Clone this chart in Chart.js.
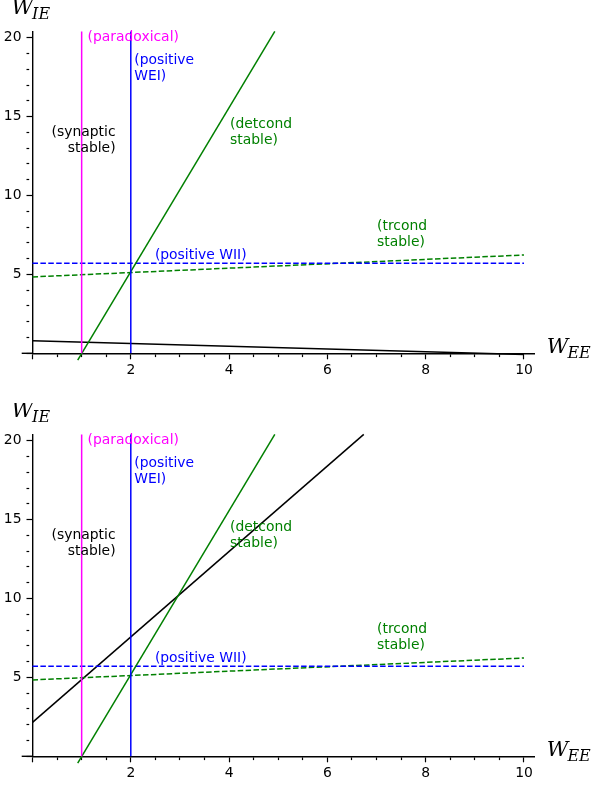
<!DOCTYPE html>
<html><head><meta charset="utf-8">
<script src="https://cdn.jsdelivr.net/npm/chart.js@4.4.1/dist/chart.umd.min.js"></script>
<style>
html,body{margin:0;padding:0;background:#fff;overflow:hidden;width:591px;height:785px}
canvas{position:absolute;left:0}
#c1{top:0}
#c2{top:403px}
</style></head><body>
<canvas id="c1" width="591" height="392"></canvas>
<canvas id="c2" width="591" height="392"></canvas>
<script>
// ---- data (W_EE on x, W_IE on y) ----
const paradoxicalX = [1, 1],        paradoxicalY = [0, 20.4];
const positiveWEIX = [2, 2],        positiveWEIY = [0, 20.4];
const detcondX     = [0.92, 4.93],  detcondY     = [-0.43, 20.4];
const positiveWIIX = [0, 10],       positiveWIIY = [5.7, 5.7];
const trcondX      = [0, 10],       trcondY      = [4.84, 6.23];
const synapticTopX = [0, 10],       synapticTopY = [0.8, -0.08];
const synapticBotX = [0, 6.74],     synapticBotY = [2.15, 20.4];

// ---- ticks ----
const xTickValues = [0,0.5,1,1.5,2,2.5,3,3.5,4,4.5,5,5.5,6,6.5,7,7.5,8,8.5,9,9.5,10];
const xMajorTicks = [0,2,4,6,8,10];
const xTickLabels = [2,4,6,8,10];
const yTickValues = [0,1,2,3,4,5,6,7,8,9,10,11,12,13,14,15,16,17,18,19,20];
const yMajorTicks = [0,5,10,15,20];
const yTickLabels = [5,10,15,20];

// ---- text labels ----
const noteText   = [['(paradoxical)'], ['(positive','WEI)'], ['(synaptic','stable)'], ['(detcond','stable)'], ['(trcond','stable)'], ['(positive WII)']];
const noteX      = [1.12, 2.07, 1.69, 4.02, 7.01, 2.49];
const noteY      = [20.0, 18.05, 13.5, 14.0, 7.53, 6.23];
const noteAlign  = ['left','left','right','left','left','left'];
const noteColor  = ['#ff00ff','#0000ff','#000000','#008000','#008000','#0000ff'];

const pts = (X, Y) => X.map((v, i) => ({x: v, y: Y[i]}));

function drawMath(ctx, main, sub, x, yb) {
  ctx.textAlign = 'left';
  ctx.textBaseline = 'alphabetic';
  ctx.fillStyle = '#000';
  ctx.font = 'italic 21px "DejaVu Serif"';
  ctx.fillText(main, x, yb);
  const w = ctx.measureText(main).width;
  ctx.font = 'italic 16px "DejaVu Serif"';
  ctx.fillText(sub, x + w - 1, yb + 5);
}

const decor = {
  id: 'decor',
  afterDraw(chart) {
    const {ctx, chartArea: a, scales: {x, y}} = chart;
    ctx.save();
    const y0 = y.getPixelForValue(0);
    ctx.strokeStyle = '#000'; ctx.lineWidth = 1.4;
    ctx.beginPath(); ctx.moveTo(a.left - 10.8, y0); ctx.lineTo(a.left, y0); ctx.stroke();
    ctx.font = '13.9px "DejaVu Sans"';
    ctx.textBaseline = 'middle';
    noteText.forEach((lines, i) => {
      ctx.fillStyle = noteColor[i];
      ctx.textAlign = noteAlign[i];
      const px = x.getPixelForValue(noteX[i]);
      const py = y.getPixelForValue(noteY[i]);
      const lh = 15.5, k = lines.length;
      lines.forEach((t, j) => ctx.fillText(t, px, py + (j - (k - 1) / 2) * lh));
    });
    drawMath(ctx, 'W', 'IE', a.left - 21, a.top - 17);
    drawMath(ctx, 'W', 'EE', a.right + 12, a.bottom);
    ctx.restore();
  }
};

function ds(X, Y, color, dash) {
  return {data: pts(X, Y), showLine: true, borderColor: color, backgroundColor: color,
    borderWidth: 1.5, borderDash: dash || [], pointRadius: 0, pointHoverRadius: 0,
    tension: 0, fill: false, clip: false};
}

function makeChart(id, synX, synY) {
  new Chart(document.getElementById(id), {
    type: 'scatter',
    data: {
      datasets: [
        ds(paradoxicalX, paradoxicalY, '#ff00ff'),
        ds(positiveWEIX, positiveWEIY, '#0000ff'),
        ds(detcondX, detcondY, '#008000'),
        ds(positiveWIIX, positiveWIIY, '#0000ff', [5.5, 2.4]),
        ds(trcondX, trcondY, '#008000', [5.5, 2.4]),
        ds(synX, synY, '#000000')
      ]
    },
    options: {
      responsive: false, animation: false, events: [],
      layout: {padding: {left: 0, top: 31.4, right: 56.2, bottom: 0}},
      plugins: {legend: {display: false}, tooltip: {enabled: false}},
      scales: {
        x: {
          type: 'linear', position: 'bottom', min: 0, max: 10.22,
          afterBuildTicks: s => { s.ticks = xTickValues.map(v => ({value: v})); },
          afterFit: s => { s.height = 38.7; },
          ticks: {autoSkip: false, maxRotation: 0, padding: 2.5, color: '#000',
            font: {family: 'DejaVu Sans', size: 13.9},
            callback: v => xTickLabels.includes(v) ? String(v) : ''},
          grid: {drawOnChartArea: false, drawTicks: true, tickLength: 6, tickColor: '#000', tickWidth: 1.2,
            tickBorderDash: c => (c.tick && xMajorTicks.includes(c.tick.value)) ? [] : [2.7, 20]},
          border: {display: true, color: '#000', width: 1.4}
        },
        y: {
          type: 'linear', position: 'left', min: 0, max: 20.4,
          afterBuildTicks: s => { s.ticks = yTickValues.map(v => ({value: v})); },
          afterFit: s => { s.width = 32.5; },
          ticks: {autoSkip: false, padding: 5, color: '#000',
            font: {family: 'DejaVu Sans', size: 13.9},
            callback: v => yTickLabels.includes(v) ? String(v) : ''},
          grid: {drawOnChartArea: false, drawTicks: true, tickLength: 6, tickColor: '#000', tickWidth: 1.2,
            tickBorderDash: c => (c.tick && yMajorTicks.includes(c.tick.value)) ? [] : [2.7, 20]},
          border: {display: true, color: '#000', width: 1.4}
        }
      }
    },
    plugins: [decor]
  });
}

makeChart('c1', synapticTopX, synapticTopY);
makeChart('c2', synapticBotX, synapticBotY);
</script>
</body></html>
